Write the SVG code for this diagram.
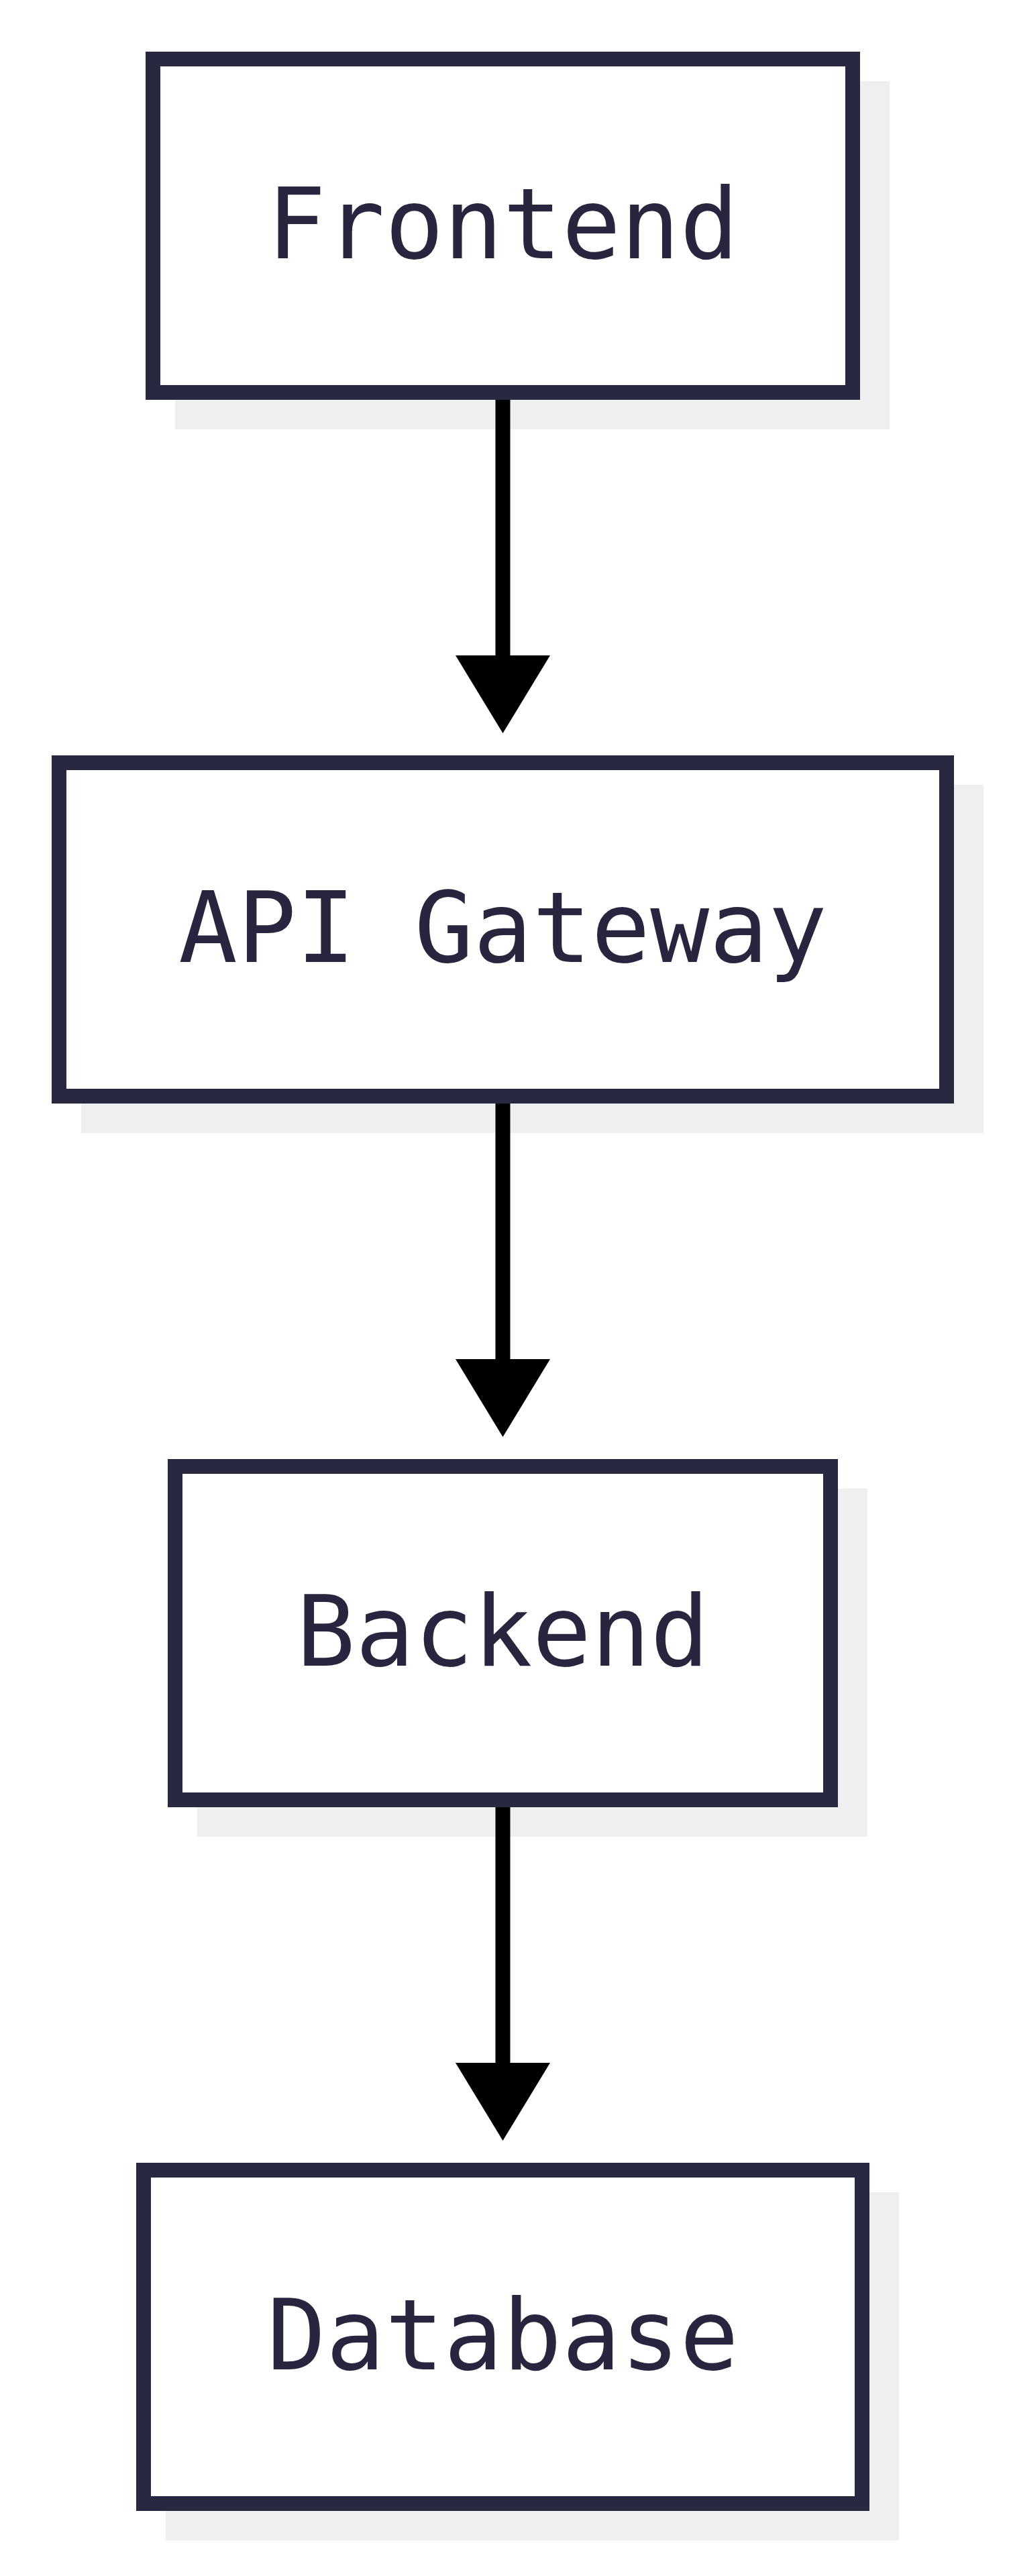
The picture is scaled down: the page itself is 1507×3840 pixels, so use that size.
<svg xmlns="http://www.w3.org/2000/svg" width="1507" height="3840" viewBox="0 0 1507 3840">
  <style>
    .shadow { fill: #efefef; stroke: none; }
    .box { fill: #ffffff; stroke: #282840; stroke-width: 22; }
    .label { font-family: "DejaVu Sans Mono", "Liberation Mono", monospace; font-size: 146px; fill: #28263f; text-anchor: middle; }
    .edge { stroke: #000000; stroke-width: 22; fill: none; marker-end: url(#arrow); }
  </style>
  <defs>
    <marker id="arrow" markerUnits="userSpaceOnUse" viewBox="0 0 116 141" markerWidth="116" markerHeight="141" refX="0" refY="70.5" orient="auto">
      <path d="M0,0 L116,70.5 L0,141 Z" fill="#000000"/>
    </marker>
  </defs>
  <rect x="0" y="0" width="1507" height="3840" fill="#ffffff"/>

  <g id="frontend">
    <rect class="shadow" x="261" y="121" width="1065" height="519"/>
    <rect class="box" x="228" y="88" width="1043" height="497"/>
    <text class="label" x="749.5" y="385">Frontend</text>
  </g>

  <g id="api-gateway">
    <rect class="shadow" x="121" y="1170" width="1345" height="519"/>
    <rect class="box" x="88" y="1137" width="1323" height="497"/>
    <text class="label" x="749.5" y="1434">API Gateway</text>
  </g>

  <g id="backend">
    <rect class="shadow" x="294" y="2219" width="999" height="519"/>
    <rect class="box" x="261" y="2186" width="977" height="497"/>
    <text class="label" x="749.5" y="2483">Backend</text>
  </g>

  <g id="database">
    <rect class="shadow" x="247" y="3268" width="1093" height="519"/>
    <rect class="box" x="214" y="3235" width="1071" height="497"/>
    <text class="label" x="749.5" y="3532">Database</text>
  </g>

  <g id="connectors">
    <line class="edge" x1="749.5" y1="596" x2="749.5" y2="977"/>
    <line class="edge" x1="749.5" y1="1645" x2="749.5" y2="2026"/>
    <line class="edge" x1="749.5" y1="2694" x2="749.5" y2="3075"/>
  </g>
</svg>
